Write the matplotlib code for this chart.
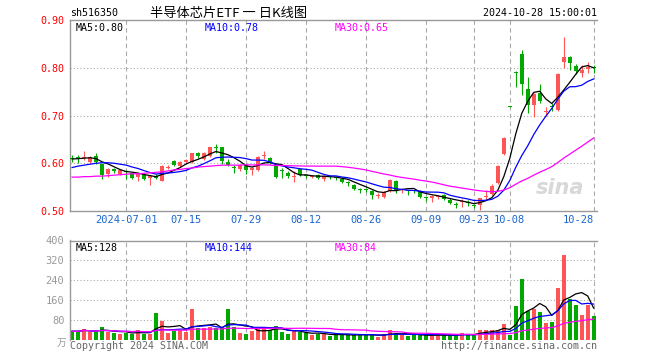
import numpy as np
import pandas as pd
import matplotlib
matplotlib.use("Agg")
import matplotlib.pyplot as plt

# 半导体芯片ETF daily candles, 2024-06-18 .. 2024-10-28 (88 trading days)
opens = [
    0.610, 0.611, 0.610, 0.603, 0.616, 0.598, 0.578, 0.587, 0.578, 0.582,
    0.580, 0.571, 0.575, 0.570, 0.574, 0.563, 0.591, 0.605, 0.594, 0.603,
    0.603, 0.622, 0.609, 0.615, 0.633, 0.633, 0.603, 0.592, 0.589, 0.596,
    0.585, 0.585, 0.616, 0.612, 0.594, 0.584, 0.580, 0.572, 0.587, 0.574,
    0.572, 0.575, 0.566, 0.572, 0.571, 0.567, 0.559, 0.554, 0.546, 0.546,
    0.542, 0.531, 0.530, 0.542, 0.563, 0.543, 0.542, 0.542, 0.541, 0.528,
    0.527, 0.529, 0.534, 0.524, 0.514, 0.518, 0.519, 0.512, 0.513, 0.530,
    0.535, 0.558, 0.619, 0.719, 0.792, 0.829, 0.755, 0.722, 0.748, 0.708,
    0.719, 0.711, 0.813, 0.823, 0.804, 0.790, 0.797, 0.801]
highs = [
    0.617, 0.618, 0.626, 0.616, 0.622, 0.599, 0.590, 0.590, 0.589, 0.585,
    0.582, 0.580, 0.577, 0.576, 0.577, 0.596, 0.596, 0.606, 0.604, 0.609,
    0.622, 0.624, 0.623, 0.635, 0.640, 0.635, 0.608, 0.597, 0.598, 0.598,
    0.593, 0.616, 0.626, 0.614, 0.597, 0.590, 0.583, 0.583, 0.590, 0.577,
    0.576, 0.578, 0.575, 0.575, 0.574, 0.569, 0.562, 0.556, 0.548, 0.549,
    0.544, 0.537, 0.541, 0.567, 0.565, 0.549, 0.544, 0.544, 0.544, 0.532,
    0.533, 0.534, 0.536, 0.527, 0.518, 0.526, 0.522, 0.515, 0.528, 0.543,
    0.556, 0.597, 0.654, 0.719, 0.793, 0.838, 0.780, 0.748, 0.765, 0.718,
    0.727, 0.788, 0.865, 0.825, 0.808, 0.805, 0.812, 0.806]
lows = [
    0.602, 0.601, 0.606, 0.600, 0.598, 0.568, 0.571, 0.580, 0.575, 0.566,
    0.568, 0.562, 0.565, 0.555, 0.566, 0.562, 0.587, 0.594, 0.592, 0.600,
    0.601, 0.612, 0.606, 0.613, 0.622, 0.599, 0.594, 0.580, 0.583, 0.578,
    0.576, 0.583, 0.608, 0.599, 0.569, 0.569, 0.569, 0.561, 0.574, 0.569,
    0.570, 0.566, 0.563, 0.566, 0.565, 0.558, 0.553, 0.544, 0.537, 0.540,
    0.526, 0.527, 0.528, 0.540, 0.537, 0.537, 0.534, 0.537, 0.527, 0.521,
    0.518, 0.526, 0.524, 0.514, 0.507, 0.509, 0.510, 0.506, 0.502, 0.522,
    0.534, 0.556, 0.617, 0.718, 0.760, 0.742, 0.705, 0.696, 0.727, 0.700,
    0.709, 0.709, 0.800, 0.795, 0.787, 0.781, 0.790, 0.790]
closes = [
    0.609, 0.610, 0.613, 0.614, 0.602, 0.576, 0.588, 0.583, 0.585, 0.581,
    0.570, 0.578, 0.568, 0.574, 0.569, 0.594, 0.593, 0.596, 0.602, 0.607,
    0.621, 0.615, 0.622, 0.633, 0.632, 0.605, 0.597, 0.591, 0.596, 0.585,
    0.591, 0.614, 0.617, 0.601, 0.571, 0.583, 0.573, 0.574, 0.576, 0.573,
    0.573, 0.569, 0.573, 0.571, 0.570, 0.560, 0.558, 0.546, 0.545, 0.545,
    0.533, 0.532, 0.539, 0.565, 0.544, 0.545, 0.541, 0.541, 0.530, 0.527,
    0.532, 0.530, 0.526, 0.516, 0.513, 0.520, 0.517, 0.511, 0.527, 0.532,
    0.552, 0.595, 0.653, 0.718, 0.790, 0.766, 0.722, 0.746, 0.730, 0.710,
    0.718, 0.786, 0.823, 0.810, 0.794, 0.795, 0.801, 0.799]
# volume, 万
volumes = [
    35, 35, 46, 32, 32, 52, 32, 30, 23, 30,
    26, 40, 26, 26, 108, 76, 27, 36, 42, 32,
    124, 48, 48, 52, 48, 48, 124, 52, 30, 26,
    35, 45, 48, 40, 56, 34, 23, 35, 32, 27,
    19, 26, 26, 16, 21, 21, 21, 21, 21, 21,
    21, 13, 23, 40, 28, 21, 16, 21, 20, 20,
    17, 20, 20, 20, 20, 30, 20, 20, 42, 42,
    42, 42, 66, 21, 136, 245, 116, 125, 112, 69,
    73, 210, 340, 163, 140, 100, 142, 95]

# MA values at the left edge, where the history is off screen
ma10_head = [0.591, 0.594, 0.596, 0.598, 0.600, 0.601, 0.601, 0.600, 0.598]
ma30_head = [0.571, 0.571, 0.572, 0.572, 0.573, 0.573, 0.574, 0.575, 0.576, 0.577,
             0.578, 0.578, 0.579, 0.580, 0.581, 0.582, 0.584, 0.586, 0.587, 0.589,
             0.590, 0.592, 0.593, 0.594, 0.595, 0.596, 0.596, 0.596, 0.596]

tick_idx = [9, 19, 29, 39, 49, 59, 67, 73, 87]
tick_labels = ["2024-07-01", "07-15", "07-29", "08-12", "08-26",
               "09-09", "09-23", "10-08", "10-28"]

RED = "#ff5555"
GREEN = "#00a800"
GRID = "#aaaaaa"
MONO = "DejaVu Sans Mono"

x = np.arange(len(closes))
o = np.array(opens)
c = np.array(closes)
colors = [RED if cc >= oo else GREEN for oo, cc in zip(o, c)]

cs = pd.Series(closes)
ma5 = cs.rolling(5, min_periods=1).mean()
ma10 = cs.rolling(10).mean()
ma10.iloc[:9] = ma10_head
ma30 = cs.rolling(30).mean()
ma30.iloc[:29] = ma30_head

vs = pd.Series(volumes, dtype=float)
vma5 = vs.rolling(5, min_periods=1).mean()
vma10 = vs.rolling(10, min_periods=1).mean()
vma30 = vs.rolling(30, min_periods=1).mean()

fig = plt.figure(figsize=(6.6, 3.6), dpi=100)
ax = fig.add_axes([70 / 660, 149 / 360, 527 / 660, 191 / 360])
axv = fig.add_axes([70 / 660, 20 / 360, 527 / 660, 99.5 / 360])

xlim = (-0.35, 87.55)

# price panel
ax.vlines(x, lows, highs, colors=colors, lw=0.8, zorder=2)
body = np.maximum(np.abs(c - o), 0.0021)
ax.bar(x, body, bottom=np.minimum(o, c), width=0.72, color=colors, lw=0, zorder=3)
ax.plot(x, ma5, color="black", lw=0.9, zorder=4)
ax.plot(x, ma10, color="#0000ff", lw=0.9, zorder=4)
ax.plot(x, ma30, color="#ff00ff", lw=0.9, zorder=4)
ax.set_xlim(*xlim)
ax.set_ylim(0.50, 0.90)
ax.set_yticks([0.5, 0.6, 0.7, 0.8, 0.9])
ax.set_yticklabels(["0.50", "0.60", "0.70", "0.80", "0.90"], color="#ff0000",
                   fontsize=7.2, family=MONO)
ax.set_xticks(tick_idx)
ax.set_xticklabels(tick_labels, color="#1a66d0", fontsize=7.5, family=MONO)
ax.get_xticklabels()[-1].set_horizontalalignment("right")
ax.tick_params(length=0, pad=4)
ax.tick_params(axis="x", pad=3)
for yv in [0.6, 0.7, 0.8]:
    ax.axhline(yv, color=GRID, lw=0.8, ls=(0, (1, 2)), zorder=1)
for t in tick_idx:
    ax.axvline(t, color=GRID, lw=0.8, ls=(0, (4, 3)), zorder=1)

ax.text(0.01, 0.985, f"MA5:{ma5.iloc[-1]:.2f}", transform=ax.transAxes, va="top",
        fontsize=7.2, family=MONO, color="black")
ax.text(0.255, 0.985, f"MA10:{ma10.iloc[-1]:.2f}", transform=ax.transAxes, va="top",
        fontsize=7.2, family=MONO, color="#0000ff")
ax.text(0.502, 0.985, f"MA30:{ma30.iloc[-1]:.2f}", transform=ax.transAxes, va="top",
        fontsize=7.2, family=MONO, color="#ff00ff")
ax.text(0.975, 0.07, "sina", transform=ax.transAxes, ha="right", va="bottom",
        fontsize=15, style="italic", weight="bold", color="#d8d8d8", zorder=0)

# volume panel
axv.bar(x, volumes, width=0.72, color=colors, lw=0, zorder=2)
axv.plot(x, vma5, color="black", lw=0.9, zorder=4)
axv.plot(x, vma10, color="#0000ff", lw=0.9, zorder=4)
axv.plot(x, vma30, color="#ff00ff", lw=0.9, zorder=4)
axv.set_xlim(*xlim)
axv.set_ylim(0, 400)
axv.set_yticks([80, 160, 240, 320, 400])
axv.set_yticklabels(["80", "160", "240", "320", "400"], color="#999999",
                    fontsize=7.5, family=MONO)
axv.set_xticks([])
axv.tick_params(length=0, pad=4)
for yv in [80, 160, 240, 320]:
    axv.axhline(yv, color=GRID, lw=0.8, ls=(0, (1, 2)), zorder=1)
for t in tick_idx:
    axv.axvline(t, color=GRID, lw=0.8, ls=(0, (4, 3)), zorder=1)

axv.text(0.01, 0.97, f"MA5:{vma5.iloc[-1]:.0f}", transform=axv.transAxes, va="top",
         fontsize=7.2, family=MONO, color="black")
axv.text(0.255, 0.97, f"MA10:{vma10.iloc[-1]:.0f}", transform=axv.transAxes, va="top",
         fontsize=7.2, family=MONO, color="#0000ff")
axv.text(0.502, 0.97, f"MA30:{vma30.iloc[-1]:.0f}", transform=axv.transAxes, va="top",
         fontsize=7.2, family=MONO, color="#ff00ff")

for a in (ax, axv):
    a.spines["right"].set_visible(False)
    for s in ("left", "top", "bottom"):
        a.spines[s].set_color("#999999")
        a.spines[s].set_linewidth(1.0)
axv.spines["bottom"].set_visible(False)

# header / footer
fig.text(70 / 660, 1 - 13 / 360, "sh516350", fontsize=7.2, family=MONO, va="center")
fig.text(229 / 660, 1 - 13 / 360, "半导体芯片ETF 一 日K线图", fontsize=9.5,
         family=["Noto Sans CJK SC", "DejaVu Sans"], ha="center", va="center")
fig.text(597 / 660, 1 - 13 / 360, "2024-10-28 15:00:01", fontsize=7.2, family=MONO,
         ha="right", va="center")
fig.text(66 / 660, 1 - 343 / 360, "万", fontsize=7, color="#999999",
         family=["Noto Sans CJK SC", "DejaVu Sans"], ha="right", va="center")
fig.text(70 / 660, 1 - 346 / 360, "Copyright 2024 SINA.COM", fontsize=7.2,
         family=MONO, color="#666666", va="center")
fig.text(597 / 660, 1 - 346 / 360, "http://finance.sina.com.cn", fontsize=7.2,
         family=MONO, color="#666666", ha="right", va="center")

fig.savefig("out.png", dpi=100)
